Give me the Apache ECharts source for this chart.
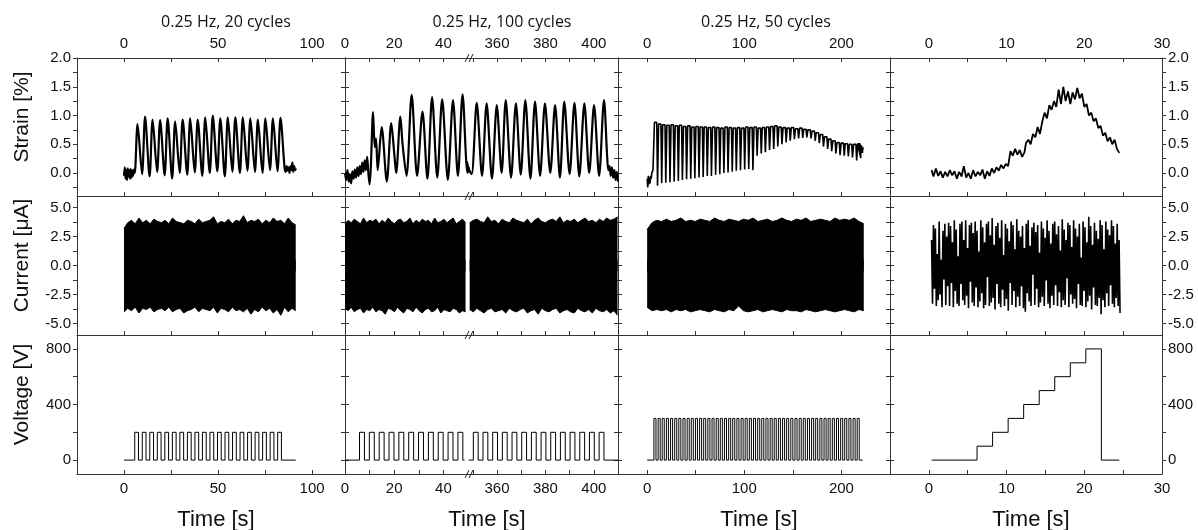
<!DOCTYPE html>
<html><head><meta charset="utf-8">
<script src="https://cdn.jsdelivr.net/npm/echarts@6.0.0/dist/echarts.min.js"></script>
<style>html,body{margin:0;padding:0;background:#fff}#c{width:1198px;height:530px}</style>
</head><body><div id="c"></div><script>
// ---------------- DATA ----------------
const panelTitles = ['0.25 Hz, 20 cycles', '0.25 Hz, 100 cycles', '0.25 Hz, 50 cycles'];
const rowNames = ['Strain [%]', 'Current [\u03bcA]', 'Voltage [V]'];
const xName = 'Time [s]';

// x tick / label values per sub-panel (col 2 is split at the axis break)
const xTicks = [[0,25,50,75,100],[10,20,30,40],[350,360,370,380,390,400],[0,50,100,150,200],[0,5,10,15,20,25]];
const xLabels = [[0,50,100],[0,20,40],[360,380,400],[0,100,200],[0,10,20,30]];
const strainTicks = [-0.25,0,0.25,0.5,0.75,1,1.25,1.5,1.75,2];
const strainLabels = [0,0.5,1,1.5,2];
const currentTicks = [-5,-3.75,-2.5,-1.25,0,1.25,2.5,3.75,5];
const currentLabels = [-5,-2.5,0,2.5,5];
const voltTicks = [0,200,400,600,800];
const voltLabels = [0,400,800];

// ---- strain ----
const strain1 = [[0,-0.05],[0.4,0.1],[0.8,-0.1],[1.2,0.06],[1.6,-0.12],[2.0,0.08],[2.4,-0.06],[2.8,0.05],[3.2,-0.1],[3.6,0.07],[4.0,-0.08],[4.4,0.04],[4.8,-0.05],[5.2,0.06],[5.7,0.0],
 [7.2,0.85],[9.6,-0.02],[11.2,0.98],[13.6,-0.06],[15.2,0.93],[17.6,0.02],[19.2,0.92],[21.6,-0.04],[23.2,0.95],[25.6,-0.10],
 [27.2,0.90],[29.6,0.00],[31.2,0.93],[33.6,-0.03],[35.2,0.95],[37.6,0.01],[39.2,0.93],[41.6,-0.05],[43.2,0.97],[45.6,0.00],
 [47.2,1.00],[49.6,0.03],[51.2,0.95],[53.6,-0.06],[55.2,0.97],[57.6,0.02],[59.2,0.97],[61.6,0.00],[63.2,0.97],[65.6,0.04],
 [67.2,0.95],[69.6,0.02],[71.2,0.93],[73.6,0.00],[75.2,0.95],[77.6,0.05],[79.2,0.95],[81.6,0.03],[83.2,0.96],[85.4,0.08],
 [86.0,0.02],[86.5,0.12],[87.0,0.04],[87.5,0.1],[88.0,0.0],[88.5,0.12],[89.0,0.05],[89.5,0.18],[90.0,0.02],[90.5,0.12],[91.0,0.05],[91.5,0.08]];
const strain2Left = [[0,0.0],[0.5,-0.12],[1,0.05],[1.5,-0.15],[2,-0.02],[2.5,-0.18],[3,0.03],[3.5,-0.1],[4,0.06],[4.5,-0.08],[5,0.1],[5.5,-0.05],[6,0.12],[6.5,-0.02],[7,0.18],[7.5,0.02],[8,0.22],[8.5,0.05],[9,0.28],[9.5,0.0],[10,-0.2],[10.5,0.1],
 [11.4,1.06],[12.1,0.45],[12.6,0.6],[13.3,0.05],[14.9,0.8],[17.0,-0.15],[18.8,0.87],[20.0,0.35],[20.8,0.0],[22.5,0.98],[23.4,0.5],[25.0,-0.05],
 [27.1,1.36],[29.3,-0.05],[31.5,1.07],[33.5,-0.1],[35.4,1.32],[37.5,-0.08],[39.5,1.28],[41.8,-0.12],[43.9,1.27],[45.9,-0.05],[47.8,1.37],[49.8,0.0],[50.5,0.1]];
const strain2Right = [[347.5,0.2],[348.5,0.05],[349.5,-0.02],
 [351.6,1.22],[353.8,-0.05],[355.7,1.21],[357.9,-0.1],[359.9,1.18],[361.9,0.0],[363.6,1.27],[365.8,-0.08],[367.8,1.21],[369.8,-0.03],
 [371.7,1.27],[373.8,-0.1],[375.7,1.24],[377.8,-0.05],[379.8,1.21],[382.0,0.0],[384.0,1.18],[386.0,-0.08],[387.8,1.24],[390.0,-0.02],
 [392.0,1.22],[394.0,-0.06],[396.1,1.21],[398.1,0.0],[400.1,1.18],[402.2,-0.05],[404.2,1.27],
 [405.5,0.3],[406,0.05],[406.5,0.12],[407,-0.05],[407.5,0.1],[408,-0.08],[408.5,0.05],[409,-0.12],[409.5,0.02],[410,-0.15]];
const strain3Start = [[0,-0.1],[0.6,-0.25],[1.2,-0.05],[1.8,-0.2],[2.4,-0.08],[3.0,-0.18],[3.6,-0.05],[4.2,-0.1],[4.8,0.0],[5.4,-0.03],[6.0,0.05],[6.6,0.02]];
const strain3Peak = [0.88,0.85,0.84,0.83,0.84,0.82,0.83,0.81,0.82,0.80,0.81,0.80,0.80,0.79,0.80,0.79,0.78,0.80,0.79,0.78,
 0.79,0.78,0.80,0.79,0.80,0.78,0.79,0.80,0.81,0.82,0.80,0.79,0.78,0.79,0.77,0.78,0.76,0.75,0.73,0.70,
 0.67,0.63,0.59,0.56,0.53,0.52,0.51,0.50,0.50,0.51];
const strain3Trough = [-0.22,-0.18,-0.17,-0.16,-0.15,-0.14,-0.12,-0.11,-0.10,-0.09,-0.08,-0.07,-0.05,-0.05,-0.03,-0.02,0.00,0.01,0.02,0.04,
 0.05,0.06,0.07,0.05,0.30,0.34,0.36,0.40,0.42,0.46,0.50,0.53,0.56,0.59,0.60,0.61,0.62,0.60,0.56,0.52,
 0.46,0.42,0.38,0.34,0.31,0.30,0.29,0.27,0.22,0.26];
const strain3End = [[216.7,0.51],[219.1,0.46],[219.8,0.3],[220.6,0.48],[221.5,0.35],[222.3,0.45]];
const strain4 = [[0.35,0.05],[0.6,-0.06],[0.9,0.08],[1.2,-0.05],[1.5,0.03],[1.8,-0.08],[2.1,0.02],[2.4,-0.06],[2.7,0.05],[3.0,-0.04],[3.3,0.03],[3.6,-0.1],[3.9,0.02],[4.2,-0.06],[4.5,0.12],[4.8,-0.08],[5.1,0.0],[5.4,-0.1],[5.7,0.05],[6.0,-0.06],[6.3,0.02],[6.6,-0.04],[6.9,0.06],[7.2,-0.1],[7.5,0.03],[7.8,-0.05],[8.1,0.08],[8.4,0.0],[8.7,0.1],[9.0,0.04],[9.3,0.14],[9.6,0.08],[9.9,0.16],[10.2,0.12],[10.5,0.38],[10.8,0.3],[11.1,0.42],[11.4,0.32],[11.7,0.4],[12.0,0.28],[12.3,0.36],[12.5,0.52],[12.8,0.58],[13.1,0.5],[13.4,0.68],[13.7,0.62],[14.0,0.8],[14.3,0.68],[14.6,0.9],[14.9,1.05],[15.2,0.95],[15.5,1.18],[15.8,1.1],[16.1,1.25],[16.4,1.15],[16.7,1.45],[17.0,1.2],[17.3,1.5],[17.6,1.25],[17.9,1.42],[18.2,1.2],[18.5,1.4],[18.8,1.28],[19.1,1.48],[19.4,1.3],[19.7,1.38],[20.0,1.15],[20.3,1.2],[20.6,1.0],[20.9,1.05],[21.2,0.9],[21.5,0.95],[21.8,0.78],[22.1,0.82],[22.4,0.65],[22.7,0.7],[23.0,0.55],[23.3,0.62],[23.6,0.5],[23.9,0.58],[24.2,0.42],[24.5,0.35]];

// ---- current (upper / lower envelopes of the dense oscillation) ----
const cur1Span = [0, 91.3];
const cur1Upper = [3.2,3.7,3.9,3.6,4.1,3.7,3.9,3.6,4.0,3.8,3.7,3.9,3.6,4.1,3.8,3.7,3.6,3.9,3.8,3.6,4.0,3.7,3.8,3.9,4.2,3.6,3.8,3.7,4.0,3.6,3.9,3.8,4.3,3.7,3.9,3.8,4.0,3.6,3.9,3.7,4.1,3.8,3.9,3.6,4.1,3.7,3.5];
const cur1Lower = [-4.0,-3.7,-3.9,-3.6,-4.1,-3.7,-3.8,-3.6,-4.0,-3.8,-3.7,-3.9,-3.6,-4.0,-3.8,-3.7,-4.1,-3.9,-3.8,-3.6,-4.0,-3.7,-3.8,-3.9,-3.6,-4.1,-3.7,-3.8,-4.0,-3.6,-3.9,-3.8,-4.0,-3.7,-4.2,-3.8,-4.0,-3.6,-3.9,-3.7,-4.1,-3.8,-4.3,-3.6,-4.0,-3.7,-3.9];
const cur2LeftSpan = [0, 49.0];
const cur2LeftUpper = [3.6,3.9,3.7,4.0,3.8,3.6,4.1,3.7,3.9,3.8,4.0,3.6,3.9,3.7,4.1,3.8,3.6,3.9,4.0,3.7,3.8,4.1,3.6,3.9,3.7,4.0,3.8,3.9,3.6,4.1,3.7,3.8,4.0,3.7,3.9,4.1,3.6,3.8,4.0,3.7];
const cur2LeftLower = [-3.7,-3.9,-3.6,-4.0,-3.8,-3.7,-4.1,-3.8,-3.9,-3.6,-4.0,-3.8,-3.9,-4.2,-3.7,-3.8,-4.0,-3.6,-3.9,-4.1,-3.7,-3.8,-4.0,-3.6,-3.9,-4.1,-3.8,-3.7,-4.0,-3.9,-3.6,-4.1,-3.8,-3.9,-4.0,-3.7,-3.8,-4.1,-3.9,-4.0];
const cur2RightSpan = [348.7, 409.8];
const cur2RightUpper = [3.7,3.9,4.0,3.8,3.7,4.2,3.8,3.9,3.6,4.0,3.8,3.7,4.1,3.9,3.8,3.7,4.0,3.6,3.9,4.1,3.8,3.7,3.9,4.0,3.8,4.2,3.7,3.9,3.8,4.0,3.7,3.9,4.1,3.8,3.9,3.7,4.0,3.8,4.1,3.9,4.0,4.2];
const cur2RightLower = [-3.8,-4.0,-3.7,-3.9,-4.1,-3.8,-3.7,-4.0,-3.9,-3.8,-4.1,-3.7,-3.9,-4.0,-3.8,-3.7,-4.1,-3.9,-3.8,-4.2,-3.7,-3.9,-4.0,-3.8,-3.7,-4.1,-3.9,-3.8,-4.0,-4.1,-3.7,-3.9,-4.0,-3.8,-4.1,-3.7,-3.9,-4.0,-3.8,-4.1,-3.9,-4.3];
const cur3Span = [0, 223];
const cur3Upper = [3.1,3.7,3.9,3.8,4.0,3.8,3.9,4.1,3.8,3.9,3.8,4.0,3.9,3.8,4.1,3.9,3.8,4.0,3.9,3.8,4.0,3.9,4.1,3.8,3.9,4.0,3.8,3.9,4.1,3.9,3.8,4.0,3.9,4.1,3.8,3.9,4.0,3.9,3.8,4.1,3.9,4.0,3.9,4.1,3.8,3.6];
const cur3Lower = [-3.6,-3.9,-3.8,-3.9,-3.8,-4.0,-3.8,-3.9,-3.8,-4.0,-3.9,-3.8,-3.9,-4.0,-3.8,-3.9,-4.0,-3.8,-3.9,-3.5,-3.9,-4.0,-3.9,-3.8,-4.0,-3.9,-3.8,-3.9,-4.0,-3.8,-3.9,-3.9,-4.0,-3.8,-3.9,-4.0,-3.9,-3.8,-3.9,-4.0,-3.9,-3.8,-3.9,-4.0,-3.8,-3.9];
const cur4Span = [0.35, 24.6];
const cur4 = [2.2,-3.3,3.5,-2.0,3.2,-3.5,1.0,-3.0,3.8,-2.5,0.5,-3.6,3.0,-1.2,3.6,-3.4,2.5,-1.8,3.7,-3.5,
 3.4,-1.5,2.0,-3.6,3.9,-2.2,3.1,-3.3,0.8,-3.5,3.6,-1.6,3.8,-3.0,2.2,-3.4,3.9,-2.6,1.5,-3.7,
 3.5,-1.4,3.7,-3.2,2.8,-3.5,3.8,-1.9,3.0,-3.6,1.2,-3.1,3.9,-2.4,3.3,-3.7,2.0,-3.4,3.6,-1.0,
 3.8,-3.5,2.6,-3.2,4.1,-2.8,1.8,-3.8,3.4,-1.6,3.7,-3.3,2.4,-3.6,3.9,-2.1,0.9,-3.5,3.6,-2.9,
 3.2,-3.9,2.1,-1.5,3.8,-3.4,3.5,-2.2,1.4,-3.6,4.0,-2.7,3.0,-3.5,2.5,-1.8,3.4,-3.7,1.5,-4.0,
 3.6,-2.4,3.9,-3.1,1.7,-3.5,3.3,-0.8,3.7,-3.4,2.9,-2.0,3.5,-3.6,1.1,-3.2,3.8,-2.7,3.2,-3.5,
 2.4,-1.3,3.9,-3.3,3.0,-3.7,1.9,-2.6,3.6,-3.4,3.8,-1.7,2.7,-3.5,3.4,-2.3,1.3,-3.6,4.0,-3.0,
 3.1,-3.4,2.2,-1.1,3.7,-3.6,3.5,-2.5,1.6,-3.3,3.9,-2.9,3.2,-3.7,2.5,-1.6,3.6,-3.4,0.7,-3.5,
 3.8,-2.2,3.3,-3.6,2.0,-3.1,4.2,-2.6,3.4,-3.8,1.8,-1.9,3.7,-3.4,3.0,-3.5,2.3,-2.8,3.9,-4.2,
 3.5,-3.0,1.4,-3.6,3.8,-2.4,3.1,-3.5,2.6,-1.7,3.9,-3.3,3.4,-3.6,1.9,-2.8,3.6,-3.5,2.2,-4.1];

// ---- voltage (pulse on-times, pulse width, level, record span) ----
const volt1On = [5.7,9.7,13.7,17.7,21.7,25.7,29.7,33.7,37.7,41.7,45.7,49.7,53.7,57.7,61.7,65.7,69.7,73.7,77.7,81.7];
const volt1 = {width: 2.0, level: 200, span: [0, 91.3]};
const volt2LeftOn = [5.9,9.9,13.9,17.9,21.9,25.9,29.9,33.9,37.9,41.9,45.9];
const volt2Left = {width: 2.0, level: 200, span: [0, 48.6]};
const volt2RightOn = [350.2,354.2,358.2,362.2,366.2,370.2,374.2,378.2,382.2,386.2,390.2,394.2,398.2,402.2];
const volt2Right = {width: 2.0, level: 200, span: [348.3, 410]};
const volt3On = [7.0,11.3,15.5,19.8,24.1,28.4,32.6,36.9,41.2,45.4,49.7,54.0,58.2,62.5,66.8,71.1,75.3,79.6,83.9,88.1,
 92.4,96.7,100.9,105.2,109.5,113.8,118.0,122.3,126.6,130.8,135.1,139.4,143.6,147.9,152.2,156.5,160.7,165.0,169.3,173.5,
 177.8,182.1,186.3,190.6,194.9,199.2,203.4,207.7,212.0,216.2];
const volt3 = {width: 2.1, level: 300, span: [0, 222]};
const volt4 = [[0.35,0],[6.2,100],[8.2,200],[10.2,300],[12.2,400],[14.2,500],[16.2,600],[18.2,700],[20.2,800],[22.2,0],[24.5,0]];
// strain lag inside each col-3 cycle (s after pulse on)
const strain3Lag = {rise: 0.5, hold: 2.9, dip: 3.7};

// ---------------- LAYOUT ----------------
const COLS = [
  {left: 77, width: 268, min: -25, max: 117.5},
  {left: 345, width: 123, min: 0, max: 50},
  {left: 468, width: 150, min: 348, max: 410},
  {left: 618, width: 272, min: -30, max: 250},
  {left: 890, width: 272, min: -5, max: 30}
];
const ROWS = [
  {top: 58, height: 138, min: -0.4, max: 2.0, ticks: strainTicks, labels: strainLabels, fmt: v => v.toFixed(1)},
  {top: 196, height: 139, min: -6, max: 6, ticks: currentTicks, labels: currentLabels, fmt: v => v.toFixed(1)},
  {top: 335, height: 139, min: -100, max: 900, ticks: voltTicks, labels: voltLabels, fmt: v => String(v)}
];
const AX = '#333';
const TXT = '#111';
const FONT = 'Arial';
const LBL = 15;

// ---------------- BUILD ----------------
function pulses(on, p) {
  const d = [[p.span[0], 0]];
  on.forEach(t => { d.push([t, p.level]); d.push([t + p.width, 0]); });
  d.push([p.span[1], 0]);
  return d;
}
function grid1d(vals, span) {
  const n = vals.length;
  return vals.map((v, i) => [span[0] + (span[1] - span[0]) * i / (n - 1), v]);
}
const strain3 = strain3Start.slice();
volt3On.forEach((t, i) => {
  strain3.push([t + strain3Lag.rise, strain3Peak[i]]);
  strain3.push([t + strain3Lag.hold, strain3Peak[i]]);
  strain3.push([t + strain3Lag.dip, strain3Trough[i]]);
});
strain3End.forEach(p => strain3.push(p));

const grid = [], xAxis = [], yAxis = [], series = [];
ROWS.forEach((R, r) => COLS.forEach((C, c) => {
  grid.push({left: C.left, top: R.top, width: C.width, height: R.height, show: false});
}));
ROWS.forEach((R, r) => COLS.forEach((C, c) => {
  const g = r * 5 + c;
  xAxis.push({
    type: 'value', gridIndex: g, position: 'bottom', min: C.min, max: C.max,
    axisLine: {show: true, onZero: false, lineStyle: {color: AX, width: 1}},
    axisTick: {show: true, inside: true, length: 4, customValues: xTicks[c], lineStyle: {color: AX}},
    axisLabel: {show: r === 2, customValues: xLabels[c], color: TXT, fontSize: LBL, fontFamily: FONT, margin: 7},
    splitLine: {show: false}
  });
}));
COLS.forEach((C, c) => {
  xAxis.push({
    type: 'value', gridIndex: c, position: 'top', min: C.min, max: C.max,
    axisLine: {show: true, onZero: false, lineStyle: {color: AX, width: 1}},
    axisTick: {show: true, inside: true, length: 4, customValues: xTicks[c], lineStyle: {color: AX}},
    axisLabel: {show: true, customValues: xLabels[c], color: TXT, fontSize: LBL, fontFamily: FONT, margin: 7},
    splitLine: {show: false}
  });
});
ROWS.forEach((R, r) => COLS.forEach((C, c) => {
  const g = r * 5 + c;
  const leftShow = c !== 2, rightShow = c !== 1;
  yAxis.push({
    type: 'value', gridIndex: g, position: 'left', min: R.min, max: R.max,
    name: c === 0 ? rowNames[r] : '', nameLocation: 'middle', nameGap: 44,
    nameTextStyle: {fontSize: 21, fontFamily: FONT, color: TXT, padding: [0, 0, 0, 20]},
    axisLine: {show: leftShow, onZero: false, lineStyle: {color: AX, width: 1}},
    axisTick: {show: leftShow, inside: c !== 0, length: 4, customValues: R.ticks, lineStyle: {color: AX}},
    axisLabel: {show: c === 0, customValues: R.labels, formatter: R.fmt, color: TXT, fontSize: LBL, fontFamily: FONT, margin: 6},
    splitLine: {show: false}
  });
  yAxis.push({
    type: 'value', gridIndex: g, position: 'right', min: R.min, max: R.max,
    axisLine: {show: rightShow, onZero: false, lineStyle: {color: AX, width: 1}},
    axisTick: {show: rightShow, inside: c !== 4, length: 4, customValues: R.ticks, lineStyle: {color: AX}},
    axisLabel: {show: c === 4, customValues: R.labels, formatter: R.fmt, color: TXT, fontSize: LBL, fontFamily: FONT, margin: 6},
    splitLine: {show: false}
  });
}));

function line(g, data, opt) {
  return Object.assign({
    type: 'line', xAxisIndex: g, yAxisIndex: 2 * g, data: data, showSymbol: false, symbol: 'none',
    lineStyle: {color: '#000', width: 1}, itemStyle: {color: '#000'}, clip: true, animation: false, silent: true
  }, opt || {});
}
// upper envelope filled down past 0, lower envelope filled up past 0 -> overlapping solid band
const bandUp = {areaStyle: {color: '#000', opacity: 1, origin: -0.5}, lineStyle: {color: '#000', width: 1}};
const bandLo = {areaStyle: {color: '#000', opacity: 1, origin: 0.5}, lineStyle: {color: '#000', width: 1}};
series.push(line(0, strain1, {smooth: 0.3, lineStyle: {color: '#000', width: 2.2}}));
series.push(line(1, strain2Left, {smooth: 0.3, lineStyle: {color: '#000', width: 2.2}}));
series.push(line(2, strain2Right, {smooth: 0.3, lineStyle: {color: '#000', width: 2.2}}));
series.push(line(3, strain3, {lineStyle: {color: '#000', width: 1.6}}));
series.push(line(4, strain4, {lineStyle: {color: '#000', width: 1.8}}));
series.push(line(5, grid1d(cur1Upper, cur1Span), bandUp));
series.push(line(5, grid1d(cur1Lower, cur1Span), bandLo));
series.push(line(6, grid1d(cur2LeftUpper, cur2LeftSpan), bandUp));
series.push(line(6, grid1d(cur2LeftLower, cur2LeftSpan), bandLo));
series.push(line(7, grid1d(cur2RightUpper, cur2RightSpan), bandUp));
series.push(line(7, grid1d(cur2RightLower, cur2RightSpan), bandLo));
series.push(line(8, grid1d(cur3Upper, cur3Span), bandUp));
series.push(line(8, grid1d(cur3Lower, cur3Span), bandLo));
series.push(line(9, grid1d(cur4, cur4Span), {lineStyle: {color: '#000', width: 1.6}}));
series.push(line(10, pulses(volt1On, volt1), {step: 'end'}));
series.push(line(11, pulses(volt2LeftOn, volt2Left), {step: 'end'}));
series.push(line(12, pulses(volt2RightOn, volt2Right), {step: 'end'}));
series.push(line(13, pulses(volt3On, volt3), {step: 'end'}));
series.push(line(14, volt4, {step: 'end'}));

const titleFont = 'Open Sans';
const tStyle = {fontSize: 16, fontWeight: 'normal', fontFamily: titleFont, color: TXT};
const title = [
  {text: panelTitles[0], left: 221, top: 9, textAlign: 'center', textStyle: tStyle},
  {text: panelTitles[1], left: 497, top: 9, textAlign: 'center', textStyle: tStyle},
  {text: panelTitles[2], left: 761, top: 9, textAlign: 'center', textStyle: tStyle}
];
[211, 482, 754, 1026].forEach(cx => title.push({text: xName, left: cx, top: 504, textAlign: 'center', textStyle: {fontSize: 22, fontWeight: 'normal', fontFamily: FONT, color: TXT}}));

const graphic = [];
[58, 196, 335, 474].forEach(y => {
  graphic.push({type: 'line', shape: {x1: 465, y1: y + 4, x2: 469, y2: y - 4}, style: {stroke: '#222', lineWidth: 1}, z: 100});
  graphic.push({type: 'line', shape: {x1: 469, y1: y + 4, x2: 473, y2: y - 4}, style: {stroke: '#222', lineWidth: 1}, z: 100});
});

const chart = echarts.init(document.getElementById('c'), null, {renderer: 'canvas'});
chart.setOption({animation: false, backgroundColor: '#fff', title, grid, xAxis, yAxis, series, graphic});
</script></body></html>
